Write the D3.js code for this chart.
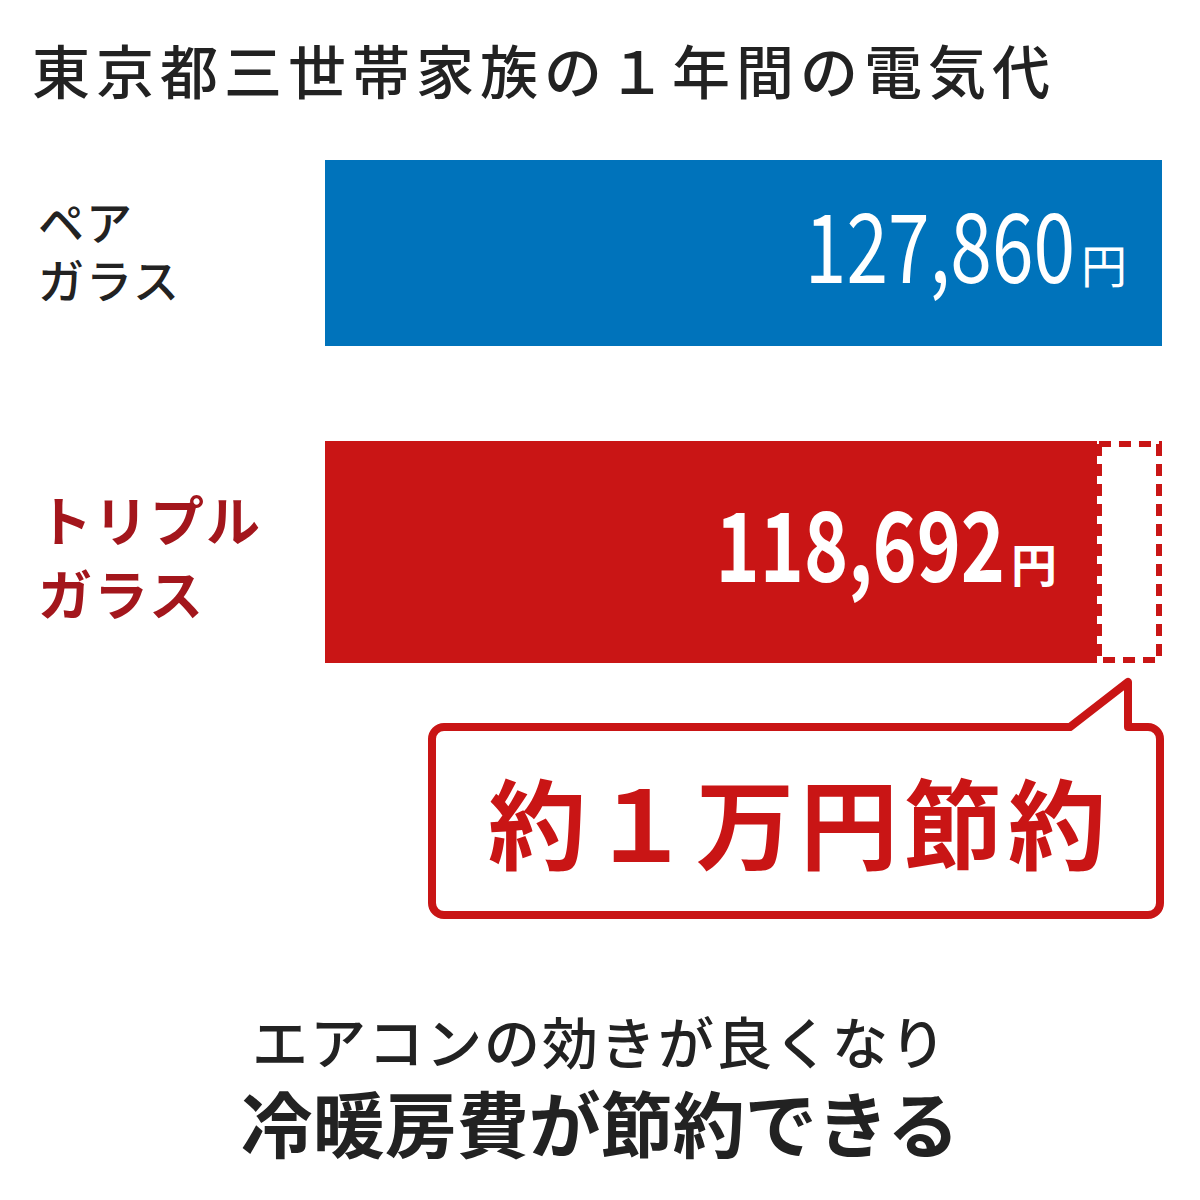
<!DOCTYPE html>
<html><head><meta charset="utf-8">
<script src="https://cdn.jsdelivr.net/npm/d3@7"></script>
<style>body{margin:0;background:#fff}text{font-family:"Noto Sans CJK JP",sans-serif}</style>
</head><body><div id="chart"></div>
<script>
const categories = [["ペア", "ガラス"], ["トリプル", "ガラス"]];
const values = [127860, 118692];
const title = "東京都三世帯家族の１年間の電気代";
const callout = "約１万円節約";
const footer = ["エアコンの効きが良くなり", "冷暖房費が節約できる"];

const colors = ["#0073bb", "#c91515"];
const labelColors = ["#222", "#a3161c"];

const svg = d3.select("#chart").append("svg").attr("width", 1200).attr("height", 1200);

svg.append("text").attr("x", 32).attr("y", 94).attr("font-size", 58).attr("font-weight", 500)
  .attr("letter-spacing", 6).attr("fill", "#222").text(title);

const x = d3.scaleLinear().domain([0, values[0]]).range([325, 1162]);
const bh = [186, 222];
const by = [160, 441];

values.forEach((v, i) => {
  const xe = i === 0 ? x(v) : x(v) - 5;
  svg.append("rect").attr("x", x(0)).attr("y", by[i]).attr("width", xe - x(0)).attr("height", bh[i]).attr("fill", colors[i]);
  const xr = i === 0 ? 1075 : 1005;
  svg.append("text").attr("transform", `translate(${xr},${by[i] + bh[i] / 2 + 30}) scale(0.78,1)`)
    .attr("text-anchor", "end").attr("fill", "#fff")
    .attr("font-size", 96).attr("font-weight", i === 0 ? 400 : 700).text(d3.format(",")(v));
  svg.append("text").attr("x", xr + 6).attr("y", by[i] + bh[i] / 2 + 30).attr("fill", "#fff")
    .attr("font-size", 46).attr("font-weight", i === 0 ? 400 : 700).text("円");
  categories[i].forEach((s, j) => {
    svg.append("text").attr("x", 38).attr("y", i === 0 ? 240 + j * 58 : 542 + j * 74)
      .attr("font-size", i === 0 ? 46 : 54).attr("font-weight", i === 0 ? 500 : 700)
      .attr("letter-spacing", 2).attr("fill", labelColors[i]).text(s);
  });
});

// saved difference (dashed)
svg.append("rect").attr("x", x(values[1]) - 3).attr("y", by[1] + 3).attr("width", x(values[0]) - x(values[1]))
  .attr("height", bh[1] - 6).attr("fill", "none").attr("stroke", colors[1]).attr("stroke-width", 6)
  .attr("stroke-dasharray", "12,8");

// callout box with pointer
const bx0 = 432, bx1 = 1160, by0 = 727, by1 = 915, r = 12;
const p = d3.path();
p.moveTo(bx0 + r, by0); p.lineTo(1070, by0); p.lineTo(1128, 682); p.lineTo(1128, by0);
p.lineTo(bx1 - r, by0); p.arcTo(bx1, by0, bx1, by0 + r, r); p.lineTo(bx1, by1 - r);
p.arcTo(bx1, by1, bx1 - r, by1, r); p.lineTo(bx0 + r, by1); p.arcTo(bx0, by1, bx0, by1 - r, r);
p.lineTo(bx0, by0 + r); p.arcTo(bx0, by0, bx0 + r, by0, r); p.closePath();
svg.append("path").attr("d", p.toString()).attr("fill", "#fff").attr("stroke", colors[1]).attr("stroke-width", 8).attr("stroke-linejoin", "round");
svg.append("text").attr("x", (bx0 + bx1) / 2 + 4).attr("y", 862).attr("text-anchor", "middle")
  .attr("font-size", 98).attr("font-weight", 700).attr("letter-spacing", 6).attr("fill", colors[1]).text(callout);

svg.append("text").attr("x", 600).attr("y", 1064).attr("text-anchor", "middle").attr("font-size", 56)
  .attr("font-weight", 500).attr("letter-spacing", 2).attr("fill", "#222").text(footer[0]);
svg.append("text").attr("x", 600).attr("y", 1152).attr("text-anchor", "middle").attr("font-size", 72)
  .attr("font-weight", 700).attr("fill", "#222").text(footer[1]);
</script></body></html>
